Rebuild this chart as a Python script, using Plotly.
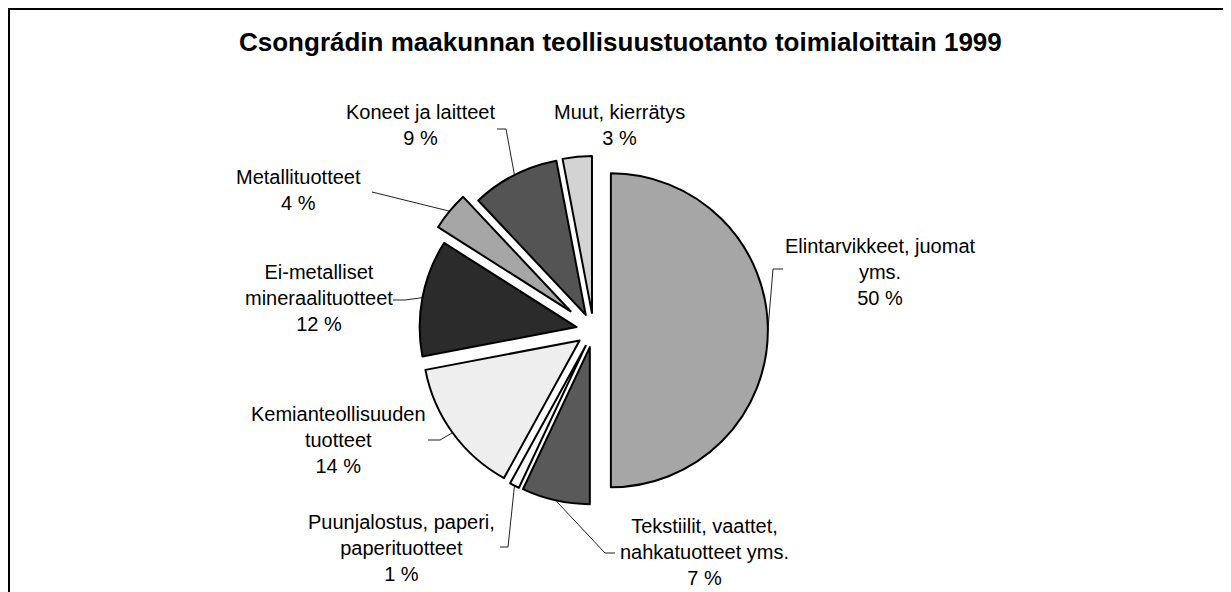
import math

import plotly.graph_objects as go

# Data: Csongrádin maakunnan teollisuustuotanto toimialoittain 1999 (%)
toimialat = [
    "Elintarvikkeet, juomat<br>yms.",
    "Tekstiilit, vaattet,<br>nahkatuotteet yms.",
    "Puunjalostus, paperi,<br>paperituotteet",
    "Kemianteollisuuden<br>tuotteet",
    "Ei-metalliset<br>mineraalituotteet",
    "Metallituotteet",
    "Koneet ja laitteet",
    "Muut, kierrätys",
]
osuudet = [50, 7, 1, 14, 12, 4, 9, 3]
varit = ["#a6a6a6", "#595959", "#f7f7f7", "#eeeeee",
         "#2b2b2b", "#a6a6a6", "#545454", "#d3d3d3"]
irrotus = [0.11, 0.11, 0.11, 0.11, 0.11, 0.19, 0.11, 0.11]

W, H = 1231, 592
OFF = 8  # page body margin: the figure starts 8 px in from the window corner
# pie geometry in window pixels (centre of the unexploded pie, radius)
CX, CY, R = 593.6, 330.3, 157.0

# label block centres and the label-side points of leader lines (window pixels)
label_pos = [(880, 272), (704, 552), (401, 548), (338, 440),
             (319, 298), (298, 190), (420, 124.5), (619, 124.5)]
leader_pts = [[(783, 269), (773, 269)],
              [(615, 553), (605, 553)],
              [(500, 547), (508, 547)],
              [(428, 440), (440, 440)],
              [(393, 300), (405, 300)],
              [(372, 192)],
              [(497, 129), (506, 129)],
              None]

max_pull = max(irrotus)
half = R * (1 + max_pull)
cx_f, cy_f = CX - OFF, CY - OFF
dom_y = [(H - cy_f - half) / H, (H - cy_f + half) / H]
dom_x = [cx_f / W - 0.17, cx_f / W + 0.17]

fig = go.Figure()

# leader lines: from the label to the middle of each slice's outer arc
total = sum(osuudet)
cum = 0
for val, pull, pts in zip(osuudet, irrotus, leader_pts):
    mid = (cum + val / 2) / total * 2 * math.pi
    cum += val
    if pts is None:
        continue
    dist = R * (1 + pull)
    ax = CX + dist * math.sin(mid)
    ay = CY - dist * math.cos(mid)
    xs = [p[0] for p in pts] + [ax]
    ys = [p[1] for p in pts] + [ay]
    fig.add_trace(go.Scatter(x=xs, y=ys, mode="lines",
                             line=dict(color="#222222", width=1),
                             hoverinfo="skip", showlegend=False))

fig.add_trace(go.Pie(
    labels=toimialat,
    values=osuudet,
    sort=False,
    direction="clockwise",
    rotation=0,
    pull=irrotus,
    marker=dict(colors=varit, line=dict(color="#000000", width=2)),
    textinfo="none",
    hoverinfo="label+percent",
    domain=dict(x=dom_x, y=dom_y),
    showlegend=False,
))

annotations = [
    dict(x=620, y=42, text="<b>Csongrádin maakunnan teollisuustuotanto toimialoittain 1999</b>",
         font=dict(size=26, color="#000000"))
]
for name, val, (lx, ly) in zip(toimialat, osuudet, label_pos):
    annotations.append(dict(x=lx, y=ly, text=f"{name}<br>{val} %",
                            font=dict(size=20, color="#000000")))
for a in annotations:
    a.update(xref="x", yref="y", showarrow=False,
             xanchor="center", yanchor="middle")

fig.update_layout(
    width=W, height=H,
    margin=dict(l=0, r=0, t=0, b=0),
    paper_bgcolor="white", plot_bgcolor="white",
    font=dict(family="Liberation Sans, Arial, sans-serif", color="#000000"),
    xaxis=dict(range=[OFF, W + OFF], visible=False, fixedrange=True),
    yaxis=dict(range=[H + OFF, OFF], visible=False, fixedrange=True),
    annotations=annotations,
    shapes=[dict(type="rect", xref="x", yref="y", x0=OFF + 1, y0=OFF + 1,
                 x1=W + 40, y1=H + 40, line=dict(color="#000000", width=2))],
)

fig.write_html("out.html")
